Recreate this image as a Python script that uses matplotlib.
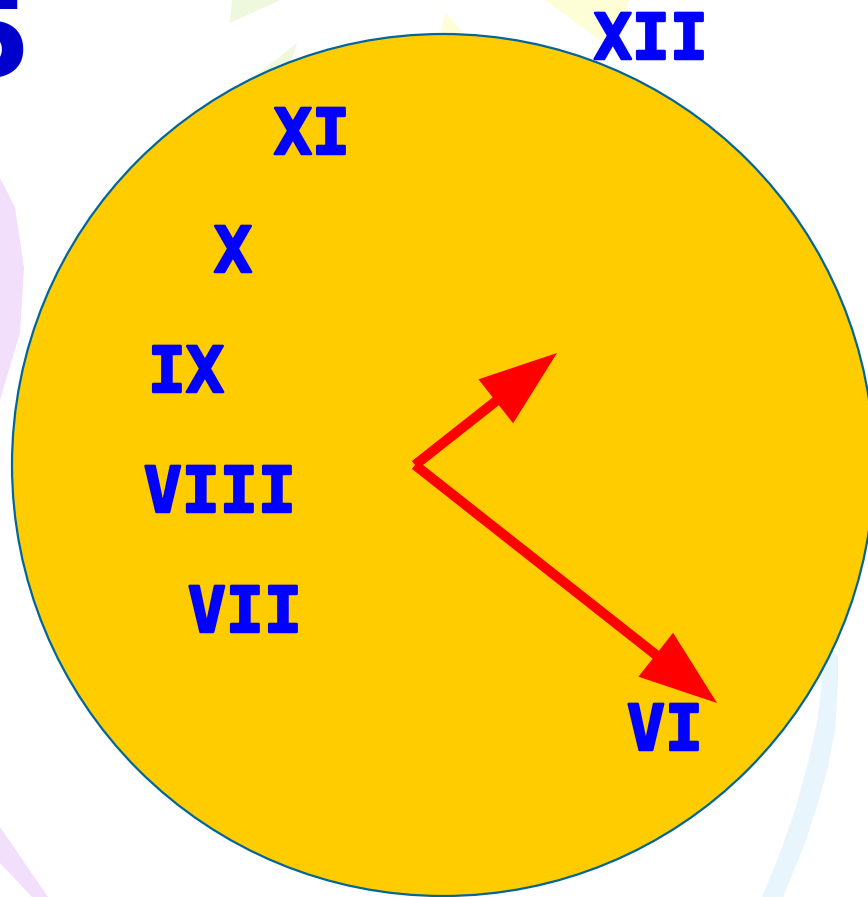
import matplotlib
matplotlib.use("Agg")
import matplotlib.pyplot as plt
import matplotlib.patheffects as pe
from matplotlib.patches import Circle, Polygon, FancyArrow

# ---- content ----
numerals = ["XII", "XI", "X", "IX", "VIII", "VII", "VI"]
corner_digit = "5"

# ---- layout (pixel coordinates, y downwards) ----
W, H = 868, 897
num_x = [651, 312, 233, 186, 220, 245, 665]
num_base = [59, 154, 272, 392, 512, 632, 750]
center = (443, 465)
radius = 431
hand_origin = (415, 465)
hand_tips = [(557, 353), (717, 703)]

fig = plt.figure(figsize=(W / 100, H / 100), dpi=100)
ax = fig.add_axes([0, 0, 1, 1])
ax.set_xlim(0, W)
ax.set_ylim(H, 0)
ax.axis("off")

# decorative background shapes
purple = "#F2DFFB"
lblue = "#E8F5FD"
lgreen = "#EEF8DC"
lyellow = "#FEFED6"
shapes = [
    ([(0, 178), (15, 207), (24, 268), (20, 333), (0, 400)], purple),
    ([(0, 827), (48, 897), (32, 897), (0, 863)], purple),
    ([(830, 645), (838, 657), (838, 683), (835, 730), (828, 767), (818, 803),
      (805, 843), (783, 897), (762, 897), (780, 853), (795, 810), (808, 763),
      (817, 723), (822, 683), (818, 660)], lblue),
    ([(232, 0), (280, 0), (230, 23)], lgreen),
    ([(297, 43), (250, 80), (285, 80)], lgreen),
    ([(445, 13), (440, 40), (470, 40)], lyellow),
    ([(545, 0), (628, 0), (628, 14), (603, 42)], lyellow),
]
for pts, col in shapes:
    ax.add_patch(Polygon(pts, closed=True, fc=col, ec="none", zorder=0))

# corner digit (partially cut off, as in the reference)
ax.text(31, 76, corner_digit, fontsize=82, fontweight="bold", color="#0000CC",
        family="DejaVu Sans", ha="right", va="baseline", zorder=1)

# clock face
ax.add_patch(Circle(center, radius, fc="#FFCC00", ec="#006699", lw=1.6, zorder=2))

# numerals
for lab, x, yb in zip(numerals, num_x, num_base):
    ax.text(x, yb, lab, fontsize=45.5, fontweight="bold", color="#0000FF",
            family="DejaVu Sans Mono", ha="center", va="baseline", zorder=4,
            path_effects=[pe.withStroke(linewidth=1.8, foreground="#0000FF")])

# hands
for tx, ty in hand_tips:
    ax.add_patch(FancyArrow(hand_origin[0], hand_origin[1],
                            tx - hand_origin[0], ty - hand_origin[1],
                            width=10, head_width=56, head_length=78,
                            length_includes_head=True, fc="#FF0000",
                            ec="none", zorder=3))

fig.savefig("out.png", dpi=100)
